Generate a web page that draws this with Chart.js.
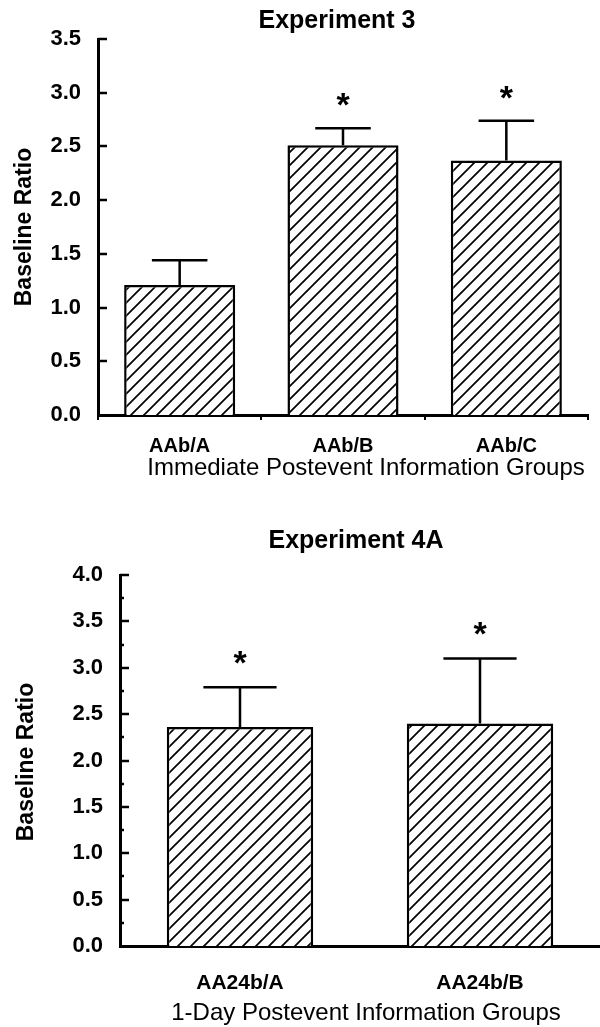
<!DOCTYPE html>
<html>
<head>
<meta charset="utf-8">
<script src="https://cdn.jsdelivr.net/npm/chart.js@4.4.1/dist/chart.umd.min.js"></script>
<style>
  html, body { margin: 0; padding: 0; background: #fff; }
  #wrap { position: relative; width: 600px; height: 1027px; }
  canvas { position: absolute; left: 0; }
  #c3 { top: 0; }
  #c4 { top: 500px; }
</style>
</head>
<body>
<div id="wrap">
  <canvas id="c3" width="600" height="500"></canvas>
  <canvas id="c4" width="600" height="527"></canvas>
</div>
<script>
// Experiment 3
const exp3Labels = ['AAb/A', 'AAb/B', 'AAb/C'];
const exp3Means = [1.21, 2.51, 2.37];
const exp3ErrTop = [1.44, 2.67, 2.74];
const exp3Stars = [null, 2.94, 3.0];

// Experiment 4A
const exp4Labels = ['AA24b/A', 'AA24b/B'];
const exp4Means = [2.36, 2.40];
const exp4ErrTop = [2.79, 3.10];
const exp4Stars = [3.11, 3.42];

const FONT = "'Liberation Sans', Arial, Helvetica, sans-serif";

function hatch() {
    const s = 13;
    const c = document.createElement('canvas');
    c.width = s; c.height = s;
    const g = c.getContext('2d');
    g.fillStyle = '#fff';
    g.fillRect(0, 0, s, s);
    g.strokeStyle = '#000';
    g.lineWidth = 1.7;
    g.beginPath();
    g.moveTo(-1, s + 1); g.lineTo(s + 1, -1);
    g.moveTo(-s / 2, s / 2); g.lineTo(s / 2, -s / 2);
    g.moveTo(s / 2, s * 1.5); g.lineTo(s * 1.5, s / 2);
    g.stroke();
    return g.createPattern(c, 'repeat');
}

// titles, inner ticks, error bars and asterisks
const extras = {
    id: 'extras',
    afterDraw(chart, args, o) {
        const ctx = chart.ctx;
        const y = chart.scales.y;
        const area = chart.chartArea;
        const meta = chart.getDatasetMeta(0);
        ctx.save();
        ctx.fillStyle = '#000';
        ctx.strokeStyle = '#000';

        // ticks point into the plot
        ctx.lineWidth = 2.5;
        for (let v = 0; v <= y.max + 1e-9; v += o.minor || 0.5) {
            const py = Math.round(y.getPixelForValue(v));
            const major = Math.abs(v * 2 - Math.round(v * 2)) < 1e-6;
            if (v === 0) continue;
            ctx.beginPath();
            ctx.moveTo(area.left, py);
            ctx.lineTo(area.left + (major ? 9 : 4), py);
            ctx.stroke();
        }

        meta.data.forEach((bar, i) => {
            const cx = bar.x;
            const half = bar.width / 4;
            const yTop = y.getPixelForValue(o.errTop[i]);
            ctx.lineWidth = 2.5;
            ctx.beginPath();
            ctx.moveTo(cx, bar.y);
            ctx.lineTo(cx, yTop);
            ctx.moveTo(cx - half, yTop);
            ctx.lineTo(cx + half, yTop);
            ctx.stroke();
            if (o.stars[i] != null) {
                ctx.font = 'bold 34px ' + FONT;
                ctx.textAlign = 'center';
                ctx.textBaseline = 'middle';
                ctx.fillText('*', cx, y.getPixelForValue(o.stars[i]) + 7);
            }
        });

        ctx.textAlign = 'center';
        ctx.textBaseline = 'middle';
        ctx.font = 'bold 25px ' + FONT;
        ctx.fillText(o.title, o.titlePos[0], o.titlePos[1]);
        ctx.font = '24px ' + FONT;
        ctx.fillText(o.xTitle, o.xTitlePos[0], o.xTitlePos[1]);

        ctx.translate(o.yTitlePos[0], o.yTitlePos[1]);
        ctx.rotate(-Math.PI / 2);
        ctx.font = 'bold 23px ' + FONT;
        ctx.fillText('Baseline Ratio', 0, 0);
        ctx.restore();
    }
};

function makeChart(id, labels, means, errTop, stars, o) {
    return new Chart(document.getElementById(id), {
        type: 'bar',
        data: {
            labels: labels,
            datasets: [{
                data: means,
                backgroundColor: hatch(),
                borderColor: '#000',
                borderWidth: 2.5,
                borderSkipped: 'bottom',
                categoryPercentage: 1,
                barPercentage: o.barPct
            }]
        },
        options: {
            responsive: false,
            animation: false,
            events: [],
            layout: { padding: o.padding },
            plugins: {
                legend: { display: false },
                tooltip: { enabled: false },
                title: { display: false },
                extras: {
                    errTop: errTop, stars: stars, minor: o.minor,
                    title: o.title, titlePos: o.titlePos,
                    xTitle: o.xTitle, xTitlePos: o.xTitlePos,
                    yTitlePos: o.yTitlePos
                }
            },
            scales: {
                x: {
                    afterFit: s => { s.height = o.xHeight; },
                    grid: {
                        display: o.xTicks,
                        drawOnChartArea: false,
                        offset: true,
                        color: '#000',
                        tickLength: 5,
                        lineWidth: 2
                    },
                    border: { display: true, color: '#000', width: 3 },
                    ticks: {
                        color: '#000',
                        font: { family: FONT, size: o.xFont, weight: 'bold' },
                        padding: o.xPad
                    }
                },
                y: {
                    min: 0,
                    max: o.yMax,
                    afterFit: s => { s.width = o.yWidth; },
                    grid: { display: false },
                    border: { display: true, color: '#000', width: 3 },
                    ticks: {
                        stepSize: 0.5,
                        color: '#000',
                        font: { family: FONT, size: 22, weight: 'bold' },
                        padding: 9,
                        callback: v => v.toFixed(1)
                    }
                }
            }
        },
        plugins: [extras]
    });
}

makeChart('c3', exp3Labels, exp3Means, exp3ErrTop, exp3Stars, {
    title: 'Experiment 3',
    titlePos: [337, 21],
    xTitle: 'Immediate Postevent Information Groups',
    xTitlePos: [366, 468],
    yTitlePos: [25, 227],
    yMax: 3.5,
    barPct: 0.68,
    minor: null,
    xTicks: true,
    xFont: 20,
    xPad: 14,
    xHeight: 85,
    yWidth: 98,
    padding: { left: 0, right: 12, top: 39, bottom: 0 }
});

makeChart('c4', exp4Labels, exp4Means, exp4ErrTop, exp4Stars, {
    title: 'Experiment 4A',
    titlePos: [356, 41],
    xTitle: '1-Day Postevent Information Groups',
    xTitlePos: [366, 513],
    yTitlePos: [27, 262],
    yMax: 4.0,
    barPct: 0.61,
    minor: 0.25,
    xTicks: false,
    xFont: 21,
    xPad: 20,
    xHeight: 81,
    yWidth: 120,
    padding: { left: 0, right: 0, top: 75, bottom: 0 }
});
</script>
</body>
</html>
